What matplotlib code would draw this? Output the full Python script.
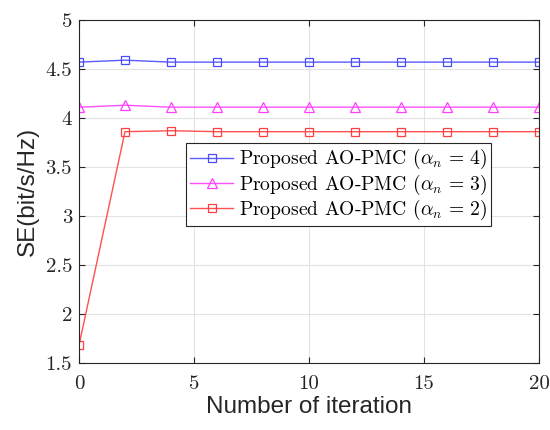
import matplotlib
matplotlib.use("Agg")
import matplotlib.pyplot as plt

plt.rcParams['mathtext.fontset'] = 'cm'
plt.rcParams['axes.unicode_minus'] = False

iterations = [0, 2, 4, 6, 8, 10, 12, 14, 16, 18, 20]
se_alpha4 = [4.57, 4.59, 4.57, 4.57, 4.57, 4.57, 4.57, 4.57, 4.57, 4.57, 4.57]
se_alpha3 = [4.11, 4.13, 4.11, 4.11, 4.11, 4.11, 4.11, 4.11, 4.11, 4.11, 4.11]
se_alpha2 = [1.68, 3.86, 3.87, 3.86, 3.86, 3.86, 3.86, 3.86, 3.86, 3.86, 3.86]

labels = [r'Proposed AO-PMC ($\alpha_n\,=\,4$)',
          r'Proposed AO-PMC ($\alpha_n\,=\,3$)',
          r'Proposed AO-PMC ($\alpha_n\,=\,2$)']
xticks = [0, 5, 10, 15, 20]
yticks = [1.5, 2, 2.5, 3, 3.5, 4, 4.5, 5]
ytick_labels = ['1.5', '2', '2.5', '3', '3.5', '4', '4.5', '5']

fig = plt.figure(figsize=(5.5, 4.3), dpi=100)
ax = fig.add_axes([0.1436, 0.156, 0.8364, 0.7975])

ax.plot(iterations, se_alpha4, color='#5a5aff', lw=1.0, marker='s', ms=6,
        mfc='none', mec='#4a4aff', mew=0.9, label=labels[0])
ax.plot(iterations, se_alpha3, color='#ff50ff', lw=1.0, marker='^', ms=7,
        mfc='none', mec='#ff40ff', mew=0.9, label=labels[1])
ax.plot(iterations, se_alpha2, color='#ff5050', lw=1.0, marker='s', ms=6,
        mfc='none', mec='#ff4040', mew=0.9, label=labels[2])

ax.set_xlim(0, 20)
ax.set_ylim(1.5, 5)
ax.set_xticks(xticks)
ax.set_xticklabels([str(t) for t in xticks])
ax.set_yticks(yticks)
ax.set_yticklabels(ytick_labels)
for lab in ax.get_xticklabels() + ax.get_yticklabels():
    lab.set_fontfamily('cmr10')
    lab.set_fontsize(15)
    lab.set_color('#262626')

ax.grid(True, color='#e3e3e3', lw=0.8)
ax.set_axisbelow(True)
ax.tick_params(direction='in', length=4, width=0.8, color='#262626',
               top=True, right=True)
ax.tick_params(axis='y', pad=5)
ax.tick_params(axis='x', pad=9)
for sp in ax.spines.values():
    sp.set_color('#262626')
    sp.set_linewidth(0.8)

ax.set_xlabel('Number of iteration', fontsize=17.5, family='Liberation Sans',
              color='#262626', labelpad=2)
ax.set_ylabel('SE(bit/s/Hz)', fontsize=17.5, family='Liberation Sans',
              color='#262626', labelpad=5)

leg = ax.legend(loc='upper left', bbox_to_anchor=(0.233, 0.64),
                prop={'family': 'cmr10', 'size': 14.1}, frameon=True,
                fancybox=False, edgecolor='#262626', framealpha=1,
                handlelength=2.2, handletextpad=0.3, borderpad=0.2,
                labelspacing=0.06, borderaxespad=0)
leg.get_frame().set_linewidth(0.8)

fig.savefig('out.png', dpi=100)
